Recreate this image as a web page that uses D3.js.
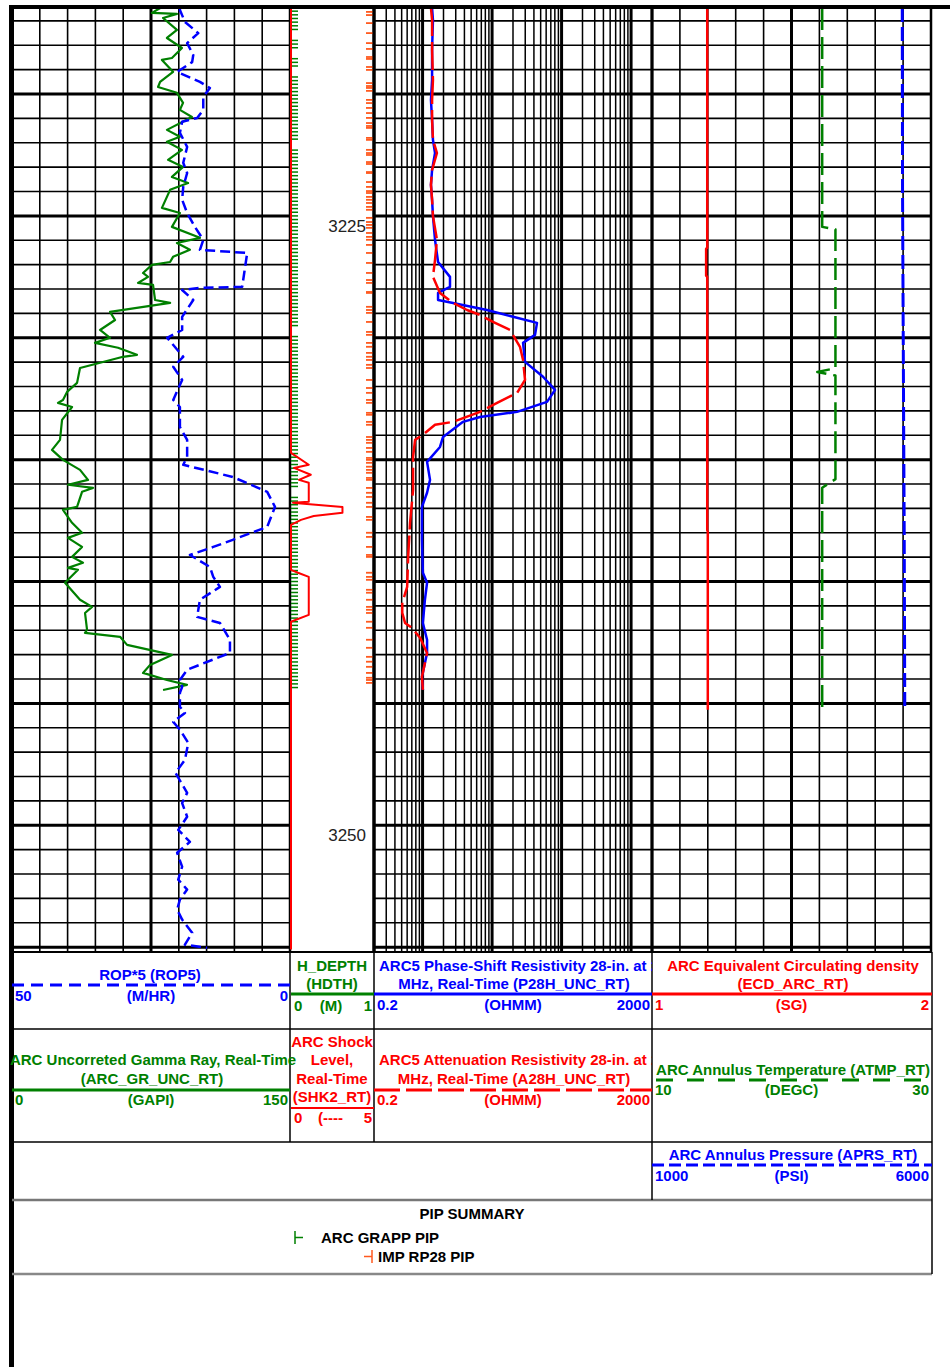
<!DOCTYPE html>
<html>
<head>
<meta charset="utf-8">
<script src="https://cdn.jsdelivr.net/npm/d3@7"></script>
<style>
  body { margin: 0; background: #fff; }
  svg { display: block; }
  text { font-family: "Liberation Sans", Arial, sans-serif; font-weight: bold; font-size: 15px; }
  .depth { font-family: "Liberation Sans Narrow", "Arial Narrow", sans-serif; font-weight: normal; font-size: 17px; fill: #222; }
</style>
</head>
<body>
<svg id="log" width="950" height="1367"></svg>
<script>
// ---- data (depth in m, value in curve units) ----
const depthLabels = [3225, 3250];

// ARC_GR_UNC_RT (GAPI)
const grCurve = [
  [3216.47, 80], [3216.67, 75.5], [3216.71, 89], [3216.88, 81.5], [3217.37, 89], [3217.70, 83.6],
  [3218.11, 91.7], [3218.52, 86.3], [3218.60, 80.9], [3219.09, 86.9], [3219.50, 79.9], [3219.71, 78.8],
  [3219.95, 89], [3220.36, 92.3], [3220.65, 90.6], [3220.94, 97.1], [3221.47, 83.6], [3221.75, 90.6],
  [3221.96, 83.6], [3222.29, 91.7], [3222.70, 84.2], [3222.99, 92.3], [3223.40, 86.3], [3223.65, 95],
  [3223.93, 85.3], [3224.67, 80.9], [3224.88, 90.6], [3225.45, 86.3], [3225.90, 101.4], [3226.11, 89],
  [3226.39, 96], [3226.68, 86.9], [3226.89, 85.3], [3227.01, 75.5], [3227.34, 70.7], [3227.50, 73.4],
  [3227.75, 68], [3227.83, 76.1], [3228.45, 77.2], [3228.57, 85.3], [3228.94, 52.9], [3229.27, 55.6],
  [3229.68, 47.5], [3230.00, 52.9], [3230.21, 44.8], [3230.41, 57.2], [3230.70, 67.4], [3230.78, 59.9],
  [3231.24, 36.7], [3231.85, 35.1], [3232.22, 29.7], [3232.55, 27.5], [3232.67, 24.8], [3232.84, 32.4],
  [3233.37, 27], [3234.19, 25.9], [3234.60, 21.6], [3235.01, 27.5], [3235.42, 36.7], [3235.83, 41],
  [3236.03, 30.2], [3236.16, 43.7], [3236.32, 37.8], [3236.94, 35.1], [3237.06, 27.5], [3237.59, 32.4],
  [3238.00, 37.8], [3238.21, 30.2], [3238.58, 37.8], [3238.99, 32.4], [3239.23, 38.3], [3239.44, 30.2],
  [3239.52, 35.6], [3240.05, 28.6], [3240.75, 36.7], [3241.04, 43.2], [3241.29, 39.4], [3241.98, 40.5],
  [3242.11, 39.4], [3242.27, 58.3], [3242.60, 62.1], [3243.01, 86.3], [3243.42, 74.5], [3243.75, 70.7],
  [3244.04, 83.6], [3244.24, 94.4], [3244.45, 81.5]
];

// ROP5 (M/HR), scale 50 -> 0
const ropCurve = [
  [3216.47, 19.8], [3216.55, 19.8], [3217.04, 18.9], [3217.50, 16.5], [3217.91, 18.5], [3218.40, 17.4],
  [3218.69, 17.6], [3219.09, 20.3], [3219.50, 16.2], [3219.75, 14.4], [3220.12, 15.6], [3220.65, 15.6],
  [3220.98, 16.7], [3221.14, 19.4], [3221.59, 19.8], [3222.17, 18.5], [3222.82, 19.2], [3223.24, 18.5],
  [3223.81, 19.2], [3224.34, 19.4], [3224.88, 18.5], [3225.45, 17.1], [3225.98, 15.6], [3226.39, 16.2],
  [3226.52, 7.7], [3227.91, 8.6], [3227.95, 16.2], [3228.04, 19.4], [3228.45, 17.4], [3229.14, 19.4],
  [3229.68, 19.4], [3230.00, 22.1], [3230.78, 19.2], [3231.19, 21.0], [3231.73, 19.4], [3232.55, 21.0],
  [3232.84, 19.8], [3233.66, 19.8], [3234.19, 18.5], [3234.89, 18.5], [3235.21, 19.2], [3235.71, 10.3],
  [3236.32, 4.1], [3236.94, 2.7], [3237.76, 4.1], [3238.29, 10.3], [3238.58, 13.8], [3238.91, 18.0],
  [3239.40, 14.4], [3239.81, 13.8], [3240.22, 12.6], [3240.75, 16.2], [3241.45, 16.7], [3241.70, 12.6],
  [3242.39, 10.8], [3242.93, 10.8], [3243.62, 18.5], [3244.04, 19.8], [3244.32, 19.4], [3244.57, 19.8],
  [3245.14, 19.8], [3245.39, 18.9], [3245.76, 21.0], [3246.08, 19.8], [3246.62, 18.3], [3247.32, 18.9],
  [3247.85, 20.6], [3248.67, 18.5], [3249.09, 19.4], [3249.65, 18.5], [3250.19, 20.1], [3250.68, 18.0],
  [3251.13, 20.3], [3251.70, 19.4], [3252.23, 20.1], [3252.64, 18.5], [3253.05, 19.8], [3253.46, 20.3],
  [3253.87, 19.4], [3254.41, 17.6], [3254.90, 18.9], [3255.03, 14.9]
];

// SHK2_RT (0-5)
const shkCurve = [
  [3216.47, 0], [3234.72, 0], [3235.21, 1.07], [3235.34, 0.18], [3235.62, 1.19], [3235.83, 0.48],
  [3235.95, 1.07], [3236.73, 1.07], [3236.77, 0.12], [3236.80, 0.6], [3236.94, 3.1], [3237.18, 3.1],
  [3237.31, 1.37], [3237.47, 0.6], [3237.68, 0], [3239.52, 0], [3239.64, 0.42], [3239.81, 1.07],
  [3241.37, 1.07], [3241.57, 0.3], [3241.65, 0], [3255.1, 0]
];

// P28H_UNC_RT (OHMM)
const p28hCurve = [
  [3216.47, 1.37], [3216.96, 1.41], [3218.19, 1.37], [3219.42, 1.37], [3220.24, 1.32], [3221.06, 1.37],
  [3221.88, 1.41], [3222.42, 1.51], [3223.11, 1.37], [3223.73, 1.32], [3224.34, 1.37], [3225.00, 1.41],
  [3225.98, 1.51], [3226.89, 1.67], [3227.50, 2.48], [3227.91, 2.48], [3228.16, 1.67], [3228.45, 1.67],
  [3228.57, 2.74], [3228.86, 8.45], [3229.14, 20], [3229.39, 44.3], [3229.88, 41.5], [3230.21, 27.9],
  [3230.99, 29.8], [3231.60, 54.1], [3232.14, 80.4], [3232.63, 61.7], [3233.04, 22.9], [3233.25, 6.70],
  [3233.45, 3.82], [3234.07, 1.97], [3234.48, 1.78], [3235.09, 1.16], [3235.83, 1.28], [3236.36, 1.16],
  [3236.94, 0.98], [3238.29, 0.98], [3239.64, 1.01], [3240.05, 1.16], [3240.75, 1.08], [3241.70, 1.01],
  [3242.39, 1.16], [3242.93, 1.16], [3243.91, 0.98], [3244.45, 1.01]
];

// A28H_UNC_RT (OHMM)
const a28hCurve = [
  [3216.47, 1.32], [3216.96, 1.37], [3218.19, 1.37], [3219.42, 1.41], [3220.24, 1.37], [3221.06, 1.37],
  [3221.88, 1.41], [3222.42, 1.61], [3223.11, 1.37], [3223.73, 1.32], [3224.34, 1.37], [3225.00, 1.41],
  [3225.98, 1.61], [3226.80, 1.51], [3227.50, 1.41], [3228.16, 1.78], [3228.57, 2.74], [3228.86, 4.36],
  [3229.06, 6.70], [3229.35, 10.3], [3229.68, 18.1], [3230.37, 25.2], [3230.91, 27.9], [3231.73, 29.8],
  [3232.26, 22.9], [3232.67, 11.8], [3233.04, 6.70], [3233.45, 2.74], [3233.57, 1.51], [3233.98, 1.01],
  [3234.19, 0.78], [3234.89, 0.73], [3236.24, 0.73], [3237.59, 0.66], [3238.99, 0.62], [3240.22, 0.60],
  [3240.87, 0.51], [3241.29, 0.51], [3241.70, 0.56], [3241.90, 0.70], [3242.31, 0.92], [3242.93, 1.16],
  [3243.91, 0.98], [3244.45, 1.01]
];

// ECD_ARC_RT (SG), ATMP_RT (DEGC), APRS_RT (PSI)
const ecdCurve = [[3216.47, 1.198], [3226.3, 1.198], [3226.35, 1.194], [3227.45, 1.194], [3227.5, 1.198], [3237.9, 1.198], [3237.95, 1.2], [3245.26, 1.2]];
const atmpCurve = [[3216.47, 22.2], [3225.45, 22.2], [3225.55, 23.15], [3231.25, 23.15], [3231.40, 21.85], [3231.55, 23.15], [3235.80, 23.15], [3236.15, 22.2], [3245.26, 22.2]];
const aprsCurve = [[3216.47, 5485], [3224.0, 5490], [3228.9, 5500], [3233.5, 5510], [3238.0, 5520], [3245.26, 5530]];

// PIP depths
const grappPip = [3216.60,3216.75,3216.90,3217.05,3217.20,3217.35,3217.80,3217.95,3218.10,3218.55,3218.70,3218.85,
  3219.30,3219.45,3219.60,3219.75,3219.90,3220.05,3220.20,3220.35,3220.50,3220.65,3220.80,3220.95,3221.10,3221.25,
  3221.40,3221.55,3221.70,3221.85,3222.30,3222.45,3222.60,3222.75,3222.90,3223.05,3223.20,3223.35,3223.50,3223.65,
  3223.80,3223.95,3224.10,3224.25,3224.40,3224.55,3224.70,3224.85,3225.00,3225.15,3225.30,3225.45,3225.60,3225.75,
  3225.90,3226.05,3226.20,3226.35,3226.50,3226.65,3226.80,3226.95,3227.10,3227.25,3227.40,3227.55,3227.70,3227.85,
  3228.00,3228.15,3228.30,3228.45,3228.60,3228.75,3228.90,3229.05,3229.20,3229.35,3229.50,3229.95,3230.10,3230.25,
  3230.40,3230.55,3230.70,3230.85,3231.00,3231.15,3231.30,3231.45,3231.60,3231.75,3231.90,3232.05,3232.20,3232.35,
  3232.50,3232.65,3232.80,3232.95,3233.10,3233.25,3233.40,3233.55,3233.70,3233.85,3234.00,3234.15,3234.30,3234.45,
  3234.60,3234.75,3234.90,3235.05,3235.20,3235.35,3235.50,3235.65,3235.80,3235.95,3236.10,3236.55,3236.70,3236.85,
  3237.00,3237.15,3237.30,3237.45,3237.60,3237.75,3237.90,3238.05,3238.20,3238.35,3238.50,3238.65,3238.80,3238.95,
  3239.10,3239.25,3239.40,3239.55,3239.70,3239.85,3240.00,3240.15,3240.30,3240.45,3240.60,3240.75,3240.90,3241.05,
  3241.20,3241.35,3241.50,3241.65,3241.80,3241.95,3242.10,3242.25,3242.40,3242.55,3242.70,3242.85,3243.00,3243.15,
  3243.30,3243.45,3243.60,3243.75,3243.90,3244.05,3244.20,3244.35];
const rp28Pip = [3216.63,3216.76,3217.09,3217.50,3217.91,3218.15,3218.48,3218.56,3218.89,3219.01,3219.55,3219.67,
  3219.75,3219.87,3220.24,3220.37,3220.57,3220.78,3220.98,3221.19,3221.31,3221.39,3221.80,3221.88,3222.29,3222.42,
  3222.50,3222.79,3222.87,3223.20,3223.24,3223.61,3223.81,3223.98,3224.06,3224.22,3224.34,3224.47,3224.63,3224.75,
  3225.08,3225.25,3225.37,3225.49,3225.70,3225.86,3225.98,3226.19,3226.52,3226.93,3227.34,3227.63,3227.75,3228.12,
  3228.16,3228.73,3228.86,3228.98,3229.35,3229.76,3229.88,3230.21,3230.37,3230.62,3230.78,3230.91,3231.11,3231.24,
  3231.73,3232.06,3232.26,3232.55,3232.67,3233.08,3233.16,3233.45,3233.57,3234.07,3234.19,3234.31,3234.52,3234.68,
  3234.93,3235.01,3235.13,3235.29,3235.42,3235.54,3235.75,3235.83,3236.16,3236.36,3236.53,3236.77,3236.94,3237.35,
  3237.47,3238.00,3238.17,3238.58,3238.91,3238.99,3239.64,3239.81,3239.93,3240.34,3240.46,3240.75,3241.04,3241.16,
  3241.29,3241.65,3241.90,3242.39,3242.72,3243.09,3243.29,3243.50,3243.75,3243.95,3244.04,3244.16];

// ---- layout ----
const svg = d3.select("#log");
const plotTop = 8, plotBottom = 952;
const y = d3.scaleLinear().domain([3216.47, 3255.2]).range([plotTop, plotBottom]);

const xGR = d3.scaleLinear().domain([0, 150]).range([12, 290]);
const xROP = d3.scaleLinear().domain([50, 0]).range([12, 290]);
const xSHK = d3.scaleLinear().domain([0, 5]).range([291, 374]);
const xRes = d3.scaleLog().domain([0.2, 2000]).range([374, 652]);
const xECD = d3.scaleLinear().domain([1, 2]).range([652, 931]);
const xATMP = d3.scaleLinear().domain([10, 30]).range([652, 931]);
const xAPRS = d3.scaleLinear().domain([1000, 6000]).range([652, 931]);

const BLUE = "#0000ff", RED = "#ff0000", GREEN = "#008000", ORANGE = "#ff5a1f";

// grid
const grid = svg.append("g").attr("stroke", "#000");
const meters = d3.range(3217, 3256);
const trackSpans = [[12, 290], [374, 652], [652, 931]];
trackSpans.forEach(([x0, x1]) => {
  grid.selectAll(null).data(meters).join("line")
    .attr("x1", x0).attr("x2", x1)
    .attr("y1", d => y(d)).attr("y2", d => y(d))
    .attr("stroke-width", d => d % 5 === 0 ? 3 : 1.6);
});

// linear tracks: 10 divisions
const linDiv = d3.range(0, 11);
[xGR, xECD].forEach(sc => {
  const [a, b] = sc.domain();
  grid.selectAll(null).data(linDiv).join("line")
    .attr("x1", i => sc(a + (b - a) * i / 10)).attr("x2", i => sc(a + (b - a) * i / 10))
    .attr("y1", plotTop).attr("y2", plotBottom)
    .attr("stroke-width", i => i === 5 ? 3 : (i === 0 || i === 10) ? 2.5 : 1.6);
});

// log track
const logLines = [];
[0.1, 1, 10, 100, 1000].forEach(dec => {
  for (let m = 1; m <= 9; m++) {
    const v = dec * m;
    if (v >= 0.2 - 1e-9 && v <= 2000 + 1e-9) logLines.push(v);
  }
});
grid.selectAll(null).data(logLines).join("line")
  .attr("x1", d => xRes(d)).attr("x2", d => xRes(d))
  .attr("y1", plotTop).attr("y2", plotBottom)
  .attr("stroke-width", d => {
    const l = Math.log10(d);
    if (Math.abs(l - Math.round(l)) < 1e-9) return 3;
    if (Math.abs(d - 0.2) < 1e-9 || Math.abs(d - 2000) < 1e-9) return 3;
    return 1.5;
  });

// depth track borders
grid.append("line").attr("x1", 290).attr("x2", 290).attr("y1", plotTop).attr("y2", plotBottom).attr("stroke-width", 2);

// depth labels
svg.selectAll(null).data(depthLabels).join("text")
  .attr("class", "depth")
  .attr("x", 366).attr("y", d => y(d) + 16)
  .attr("text-anchor", "end")
  .text(d => d);

// PIP ticks
svg.append("g").attr("stroke", GREEN).attr("stroke-width", 1.5)
  .selectAll("line").data(grappPip).join("line")
  .attr("x1", 291).attr("x2", 298).attr("y1", d => y(d)).attr("y2", d => y(d));
svg.append("g").attr("stroke", ORANGE).attr("stroke-width", 1.8)
  .selectAll("line").data(rp28Pip).join("line")
  .attr("x1", 366).attr("x2", 373).attr("y1", d => y(d)).attr("y2", d => y(d));

// curves
function curve(data, xs, color, width, dash) {
  const line = d3.line().x(d => xs(d[1])).y(d => y(d[0]));
  svg.append("path").datum(data)
    .attr("d", line)
    .attr("fill", "none")
    .attr("stroke", color)
    .attr("stroke-width", width)
    .attr("stroke-linejoin", "round")
    .attr("stroke-dasharray", dash || null);
}
curve(grCurve, xGR, GREEN, 2.2);
curve(ropCurve, xROP, BLUE, 2.5, "10,5");
curve(shkCurve, xSHK, RED, 2);
curve(p28hCurve, xRes, BLUE, 2.5);
curve(a28hCurve, xRes, RED, 2.5, "28,6");
curve(ecdCurve, xECD, RED, 2.5);
curve(atmpCurve, xATMP, GREEN, 2.5, "22,7");
curve(aprsCurve, xAPRS, BLUE, 3, "14,5");

// outer frame
svg.append("rect").attr("x", 9).attr("y", 5).attr("width", 941).attr("height", 4).attr("fill", "#000");
svg.append("rect").attr("x", 9).attr("y", 5).attr("width", 5).attr("height", 1362).attr("fill", "#000");
svg.append("line").attr("x1", 374).attr("x2", 374).attr("y1", plotTop).attr("y2", plotBottom).attr("stroke", "#000").attr("stroke-width", 3);

// ---- header ----
const hdr = svg.append("g");
const hline = (x1, x2, yy, w, c) => hdr.append("line").attr("x1", x1).attr("x2", x2).attr("y1", yy).attr("y2", yy).attr("stroke", c || "#000").attr("stroke-width", w || 1.5);
const vline = (xx, y1, y2, w) => hdr.append("line").attr("x1", xx).attr("x2", xx).attr("y1", y1).attr("y2", y2).attr("stroke", "#000").attr("stroke-width", w || 1.5);

hline(12, 932, 952, 2);
hline(12, 932, 1029, 1.5);
hline(12, 932, 1142, 1.5);
hline(12, 932, 1200, 2.5, "#777");
hline(12, 932, 1274, 2.5, "#888");
vline(290, 952, 1142);
vline(374, 952, 1142);
vline(652, 952, 1200);
vline(932, 952, 1274);

svg.append("clipPath").attr("id", "clipRes").append("rect").attr("x", 374).attr("y", 940).attr("width", 278).attr("height", 200);

function label(txt, x, yy, color, anchor, clip) {
  const t = hdr.append("text").attr("x", x).attr("y", yy).attr("fill", color)
    .attr("text-anchor", anchor || "middle").text(txt);
  if (clip) t.attr("clip-path", "url(#clipRes)");
  return t;
}
function scaleRow(x0, x1, yy, color, left, unit, right) {
  label(left, x0 + 3, yy, color, "start");
  label(unit, (x0 + x1) / 2, yy, color, "middle");
  label(right, x1 - 2, yy, color, "end");
}

// row 1
label("ROP*5 (ROP5)", 150, 980, BLUE);
hline(12, 290, 985, 3, BLUE).attr("stroke-dasharray", "12,7");
scaleRow(12, 290, 1001, BLUE, "50", "(M/HR)", "0");

label("H_DEPTH", 332, 971, GREEN);
label("(HDTH)", 332, 989, GREEN);
hline(291, 374, 994, 3, GREEN);
label("0", 294, 1011, GREEN, "start");
label("(M)", 331, 1011, GREEN);
label("1", 372, 1011, GREEN, "end");

label("ARC5 Phase-Shift Resistivity 28-in. at 2", 379, 971, BLUE, "start", true);
label("MHz, Real-Time (P28H_UNC_RT)", 514, 989, BLUE);
hline(374, 652, 994, 3, BLUE);
scaleRow(374, 652, 1010, BLUE, "0.2", "(OHMM)", "2000");

label("ARC Equivalent Circulating density", 793, 971, RED);
label("(ECD_ARC_RT)", 793, 989, RED);
hline(652, 932, 994, 3, RED);
scaleRow(652, 931, 1010, RED, "1", "(SG)", "2");

// row 2
label("ARC Uncorreted Gamma Ray, Real-Time", 153, 1065, GREEN);
label("(ARC_GR_UNC_RT)", 152, 1084, GREEN);
hline(12, 290, 1090, 3, GREEN);
scaleRow(12, 290, 1105, GREEN, "0", "(GAPI)", "150");

label("ARC Shock", 332, 1047, RED);
label("Level,", 332, 1065, RED);
label("Real-Time", 332, 1084, RED);
label("(SHK2_RT)", 332, 1102, RED);
hline(291, 374, 1108, 2, RED);
label("0", 294, 1123, RED, "start");
label("(----", 318, 1123, RED, "start");
label("5", 372, 1123, RED, "end");

label("ARC5 Attenuation Resistivity 28-in. at 2", 379, 1065, RED, "start", true);
label("MHz, Real-Time (A28H_UNC_RT)", 514, 1084, RED);
hline(374, 652, 1090, 3, RED).attr("stroke-dasharray", "26,6");
scaleRow(374, 652, 1105, RED, "0.2", "(OHMM)", "2000");

label("ARC Annulus Temperature (ATMP_RT)", 793, 1075, GREEN);
hline(652, 932, 1080, 3, GREEN).attr("stroke-dasharray", "17,14").attr("stroke-dashoffset", -4);
scaleRow(652, 931, 1095, GREEN, "10", "(DEGC)", "30");

// row 3
label("ARC Annulus Pressure (APRS_RT)", 793, 1160, BLUE);
hline(652, 932, 1165, 3, BLUE).attr("stroke-dasharray", "12,5");
scaleRow(652, 931, 1181, BLUE, "1000", "(PSI)", "6000");

// PIP summary
label("PIP SUMMARY", 472, 1219, "#000");
hdr.append("path").attr("d", "M295,1231V1244M295,1237.5H303").attr("stroke", GREEN).attr("stroke-width", 1.5).attr("fill", "none");
label("ARC GRAPP PIP", 321, 1243, "#000", "start");
hdr.append("path").attr("d", "M372,1250V1263M364,1256.5H372").attr("stroke", ORANGE).attr("stroke-width", 1.5).attr("fill", "none");
label("IMP RP28 PIP", 378, 1262, "#000", "start");
</script>
</body>
</html>
